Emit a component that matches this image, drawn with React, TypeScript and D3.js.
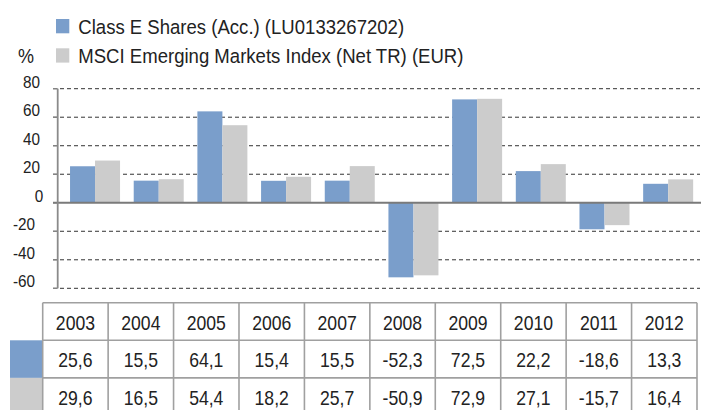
import React from "react";
import * as d3 from "d3";

const years = ["2003", "2004", "2005", "2006", "2007", "2008", "2009", "2010", "2011", "2012"];
const classE = [25.6, 15.5, 64.1, 15.4, 15.5, -52.3, 72.5, 22.2, -18.6, 13.3];
const msci = [29.6, 16.5, 54.4, 18.2, 25.7, -50.9, 72.9, 27.1, -15.7, 16.4];
const seriesNames = ["Class E Shares (Acc.) (LU0133267202)", "MSCI Emerging Markets Index (Net TR) (EUR)"];
const seriesKeys = ["classE", "msci"];
const yTicks = [80, 60, 40, 20, 0, -20, -40, -60];

const COLORS = ["#7A9ECB", "#CCCCCC"];
const FONT = "'Liberation Sans', Arial, Helvetica, sans-serif";
const TEXT = "#222";

const fmt = (v: number) => String(v.toFixed(1)).replace(".", ",");

function T({ x, y, size, anchor = "start", sx = 0.9, children }: any) {
  return (
    <text
      transform={`translate(${x},${y}) scale(${sx},1)`}
      fontSize={size}
      fontFamily={FONT}
      fill={TEXT}
      textAnchor={anchor}
    >
      {children}
    </text>
  );
}

export default function App() {
  const W = 701, H = 410;
  const y = d3.scaleLinear().domain([-60, 80]).range([288.3, 88.7]);
  const x = d3.scaleBand<string>().domain(years).range([63.2, 700]).padding(0);
  const xs = d3.scaleBand<string>().domain(seriesKeys).range([0, x.bandwidth()]).paddingInner(0).paddingOuter(0.2736);
  const axisX = 57.7;
  const gridX0 = 53;
  const gridX1 = 700;

  const tcol = d3.scaleBand<string>().domain(years).range([42.7, 697]).padding(0);
  const tTop = 302.7;
  const rowH = 37.6;
  const rows = [null, classE, msci];

  const series = [classE, msci];

  return (
    <svg width={W} height={H} style={{ position: "absolute", left: 0, top: 0, background: "#fff" }}>
      <rect x={0} y={0} width={W} height={H} fill="#fff" />
      {/* legend */}
      {seriesNames.map((n, i) => (
        <g key={n}>
          <rect x={56} y={19 + i * 29.3} width={13.3} height={14.3} fill={COLORS[i]} />
          <T x={78.3} y={34 + i * 28.8} size={20.5} sx={0.905}>{n}</T>
        </g>
      ))}
      <T x={18} y={62.8} size={20} sx={0.9}>%</T>

      {/* gridlines */}
      {yTicks.filter((t) => t !== 0).map((t) => (
        <line key={t} x1={gridX0} x2={gridX1} y1={y(t)} y2={y(t)} stroke="#333" strokeWidth={1} strokeDasharray="4,3" />
      ))}
      {/* ticks and labels */}
      {yTicks.map((t) => (
        <g key={"l" + t}>
          <line x1={gridX0} x2={axisX} y1={y(t)} y2={y(t)} stroke="#888" strokeWidth={1.2} />
          <T x={t > 0 ? 40 : t === 0 ? 43.3 : 35} y={y(t) - 1.2} size={17} anchor="end" sx={0.9}>{String(t)}</T>
        </g>
      ))}

      {/* bars */}
      {series.map((vals, si) =>
        vals.map((v, i) => {
          const bx = (x(years[i]) as number) + (xs(seriesKeys[si]) as number);
          const y0 = y(0), y1 = y(v);
          return (
            <rect key={si + "-" + i} x={bx} y={Math.min(y0, y1)} width={xs.bandwidth()} height={Math.abs(y1 - y0)} fill={COLORS[si]} />
          );
        })
      )}

      {/* zero line and axis */}
      <line x1={gridX0} x2={W} y1={y(0)} y2={y(0)} stroke="#7a7a7a" strokeWidth={1.8} />
      <line x1={axisX} x2={axisX} y1={y(80)} y2={y(-60)} stroke="#8a8a8a" strokeWidth={1.8} />

      {/* table */}
      {rows.map((r, ri) => {
        const ry = tTop + ri * rowH;
        return (
          <g key={"row" + ri}>
            {ri > 0 && <rect x={10} y={ry} width={42.7 - 10} height={rowH} fill={COLORS[ri - 1]} />}
            {years.map((yr, ci) => (
              <T key={yr} x={(tcol(yr) as number) + tcol.bandwidth() / 2} y={ry + rowH / 2 + 8} size={20} anchor="middle" sx={0.88}>
                {r === null ? yr : fmt(r[ci])}
              </T>
            ))}
          </g>
        );
      })}
      {/* table grid */}
      {[0, 1, 2, 3].map((k) => (
        <line key={"h" + k} x1={42.7} x2={697} y1={tTop + k * rowH} y2={tTop + k * rowH} stroke="#a0a0a0" strokeWidth={1.6} />
      ))}
      {[...years, "end"].map((yr, k) => {
        const xx = k < years.length ? (tcol(yr) as number) : 697;
        return <line key={"v" + k} x1={xx} x2={xx} y1={tTop} y2={tTop + 3 * rowH} stroke="#a0a0a0" strokeWidth={1.6} />;
      })}
    </svg>
  );
}
